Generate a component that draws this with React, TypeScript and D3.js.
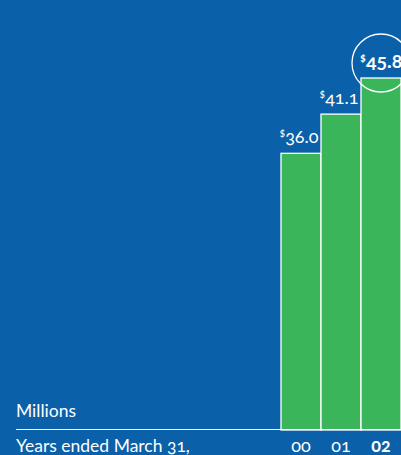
import React from 'react';
import * as d3 from 'd3';

const years = ['00', '01', '02'];
const values = [36.0, 41.1, 45.8];
const valueLabels = ['36.0', '41.1', '45.8'];
const highlighted = ['02'];
const unitLabel = 'Millions';
const axisTitle = 'Years ended March 31,';

const W = 401;
const H = 455;
const BLUE = '#0A60A9';
const GREEN = '#3AB55A';
const FONT = 'Lato, "Noto Sans", sans-serif';

export default function App() {
  const x = d3.scaleBand<string>().domain(years).range([281, 401]).padding(0);
  const y = d3.scaleLinear().domain([0, 45.8]).range([430, 78]);
  const bw = x.bandwidth();
  const hiIdx = years.indexOf(highlighted[0]);
  const hiCx = (x(years[hiIdx]) as number) + bw / 2;
  const hiTop = y(values[hiIdx]);

  return (
    <svg width={W} height={H} style={{ position: 'absolute', left: 0, top: 0, display: 'block' }}
      fontFamily={FONT}>
      <rect x={0} y={0} width={W} height={H} fill={BLUE} />
      {years.map((yr, i) => (
        <rect key={yr} x={x(yr)} y={y(values[i])} width={bw} height={y(0) - y(values[i])}
          fill={GREEN} stroke="#fff" strokeWidth={1.3} />
      ))}
      <line x1={16} x2={W} y1={y(0) - 0.5} y2={y(0) - 0.5} stroke="#fff" strokeWidth={1.2} />
      <circle cx={hiCx} cy={hiTop - 15} r={29} fill="none" stroke="#fff" strokeWidth={1.3} />
      {years.map((yr, i) => {
        const hi = highlighted.includes(yr);
        return (
          <text key={'v' + yr} x={hi ? 360 : (x(yr) as number) + bw / 2 - 2} y={y(values[i]) - 10}
            textAnchor={hi ? 'start' : 'middle'} fill="#fff" fontSize={hi ? 19.5 : 18} fontWeight={hi ? 700 : 400}
            style={{ fontVariantNumeric: 'oldstyle-nums' }}>
            <tspan fontSize={hi ? 11 : 10.5} dy={-6}>$</tspan>
            <tspan dy={6}>{valueLabels[i]}</tspan>
          </text>
        );
      })}
      {years.map((yr) => {
        const hi = highlighted.includes(yr);
        return (
          <text key={'t' + yr} x={(x(yr) as number) + bw / 2} y={452} textAnchor="middle"
            fill="#fff" fontSize={18} fontWeight={hi ? 700 : 400}
            style={{ fontVariantNumeric: 'oldstyle-nums' }}>{yr}</text>
        );
      })}
      <text x={16} y={417} fill="#fff" fontSize={17.5}>{unitLabel}</text>
      <text x={16} y={452} fill="#fff" fontSize={17.5} style={{ fontVariantNumeric: 'oldstyle-nums' }}>{axisTitle}</text>
    </svg>
  );
}
